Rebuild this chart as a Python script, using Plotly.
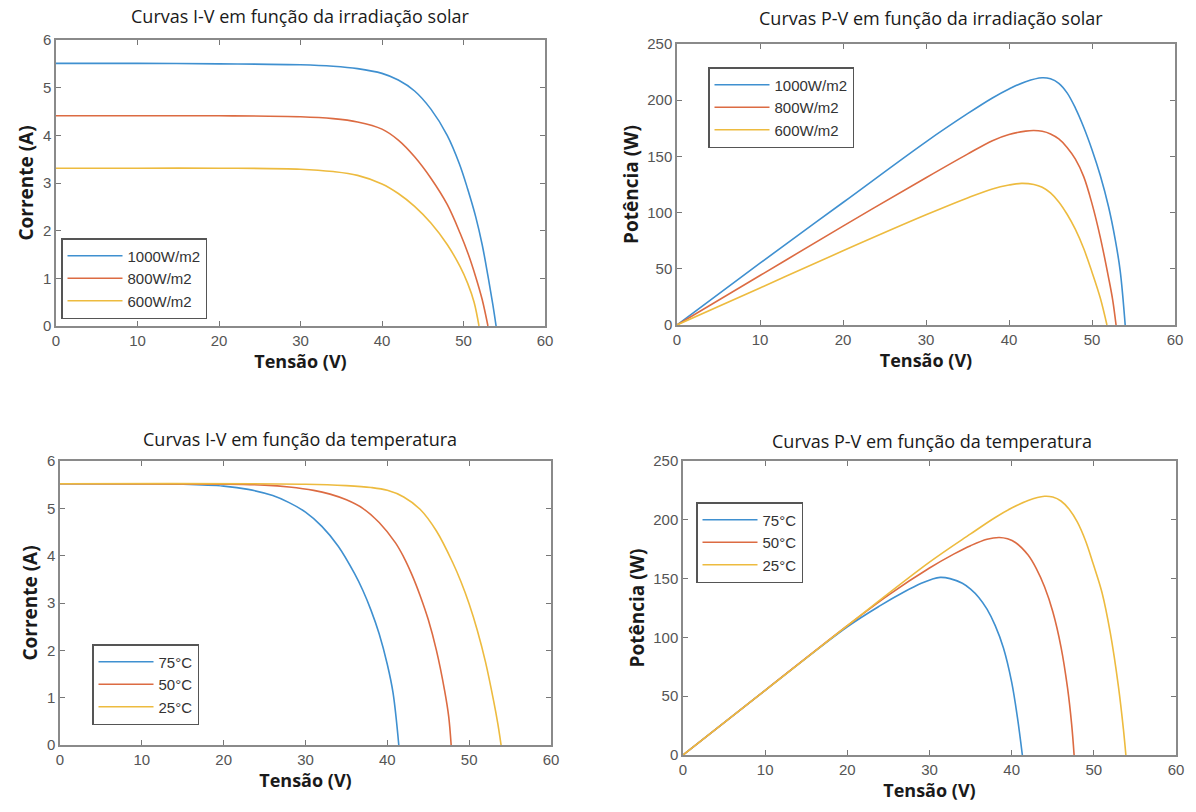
import plotly.graph_objects as go

# ---------------- data ----------------
# I-V vs irradiance
iv_irr_labels = ["1000W/m2", "800W/m2", "600W/m2"]
iv_1000_v = [0, 10, 20, 30, 34, 37, 40, 42, 44, 46, 48, 49.5, 50.5, 51.5, 52.3, 53, 53.6, 54]
iv_1000_i = [5.51, 5.51, 5.5, 5.48, 5.45, 5.4, 5.3, 5.16, 4.93, 4.55, 4.0, 3.4, 2.88, 2.29, 1.7, 1.05, 0.45, 0]
iv_800_v = [0, 10, 20, 30, 34, 37, 40, 42, 44, 46, 48, 49.6, 50.6, 51.5, 52.3, 53]
iv_800_i = [4.41, 4.41, 4.41, 4.39, 4.35, 4.28, 4.13, 3.9, 3.55, 3.1, 2.55, 1.94, 1.5, 1.03, 0.55, 0]
iv_600_v = [0, 10, 20, 30, 34, 37, 40, 42, 44, 46, 48, 49.6, 50.5, 51.3, 51.9]
iv_600_i = [3.31, 3.31, 3.31, 3.29, 3.24, 3.16, 2.98, 2.78, 2.51, 2.16, 1.71, 1.24, 0.9, 0.5, 0]

# P-V vs irradiance
pv_1000_v = [0, 10, 20, 30, 35, 38, 40, 42, 44, 45, 46, 47, 48, 49, 50, 51, 52, 52.8, 53.4, 54]
pv_1000_p = [0, 55, 109, 163, 188, 202, 210, 216.5, 220, 219, 215, 206.5, 193, 176, 156, 133, 105, 76, 48, 0]
pv_800_v = [0, 10, 20, 30, 35, 38, 40, 42, 43, 44, 45, 46, 47, 48, 49, 50, 51, 52, 52.5, 52.9]
pv_800_p = [0, 44, 88, 131, 152, 164, 169.5, 172.5, 173, 172.3, 170, 165.5, 158, 147.5, 132, 108, 78, 42, 22, 0]
pv_600_v = [0, 10, 20, 30, 35, 38, 40, 41.5, 43, 44, 45, 46, 47, 48, 49, 50, 51, 51.8]
pv_600_p = [0, 33, 66, 98, 113, 121, 124.5, 126, 125, 122.5, 117.5, 109.5, 98.5, 85, 68, 47, 24, 0]

# I-V vs temperature
temp_labels = ["75°C", "50°C", "25°C"]
ivt_75_v = [0, 10, 15, 20, 23, 26, 28, 30, 32, 34, 36, 37, 38, 39, 40, 40.7, 41.4]
ivt_75_i = [5.52, 5.52, 5.51, 5.47, 5.4, 5.27, 5.12, 4.92, 4.62, 4.2, 3.62, 3.27, 2.85, 2.35, 1.7, 1.1, 0]
ivt_50_v = [0, 20, 25, 28, 31, 33, 35, 37, 39, 41, 42, 43, 44, 45, 46, 47, 47.5, 47.8]
ivt_50_i = [5.52, 5.51, 5.49, 5.45, 5.38, 5.3, 5.18, 5.0, 4.7, 4.27, 3.97, 3.6, 3.16, 2.65, 2.0, 1.15, 0.6, 0]
ivt_25_v = [0, 30, 35, 38, 40, 42, 44, 46, 48, 49, 50, 51, 52, 53, 53.5, 53.9]
ivt_25_i = [5.52, 5.51, 5.48, 5.44, 5.38, 5.24, 4.98, 4.52, 3.85, 3.45, 2.98, 2.42, 1.75, 0.92, 0.45, 0]

# P-V vs temperature
pvt_75_v = [0, 10, 20, 24, 27, 29, 30.3, 31.3, 32.5, 34, 35, 36, 37, 38, 39, 40, 40.7, 41.3]
pvt_75_p = [0, 55, 109, 127, 139, 146, 149.5, 151, 150, 146, 141, 134, 124, 110, 91, 62, 32, 0]
pvt_50_v = [0, 10, 20, 25, 30, 33, 35, 37, 38.5, 39.5, 40.5, 42, 43, 44, 45, 46, 46.8, 47.3, 47.6]
pvt_50_p = [0, 55, 110, 136, 159, 171, 178, 183.5, 185, 183.8, 180.5, 170, 158.5, 143, 122, 92, 57, 26, 0]
pvt_25_v = [0, 10, 20, 30, 35, 38, 40, 42, 44, 45, 46, 47, 48, 49, 49.9, 51, 52, 53, 53.6, 53.9]
pvt_25_p = [0, 55, 110, 164, 188, 202, 210, 216.5, 220, 219.3, 216, 209, 198, 182, 163, 138, 104, 58, 22, 0]

x_ticks = [0, 10, 20, 30, 40, 50, 60]
i_ticks = [0, 1, 2, 3, 4, 5, 6]
p_ticks = [0, 50, 100, 150, 200, 250]

colors = ["#3f90d0", "#dc6b42", "#edbb3f"]

W, H = 1196, 812

fig = go.Figure()

def add(v, y, name, color, ax, legend):
    fig.add_trace(go.Scatter(
        x=v, y=y, name=name, mode="lines",
        line=dict(color=color, width=1.6, shape="spline", smoothing=1.0),
        xaxis="x" + ax, yaxis="y" + ax, legend=legend, hoverinfo="skip"))

add(iv_1000_v, iv_1000_i, iv_irr_labels[0], colors[0], "", "legend")
add(iv_800_v, iv_800_i, iv_irr_labels[1], colors[1], "", "legend")
add(iv_600_v, iv_600_i, iv_irr_labels[2], colors[2], "", "legend")

add(pv_1000_v, pv_1000_p, iv_irr_labels[0], colors[0], "2", "legend2")
add(pv_800_v, pv_800_p, iv_irr_labels[1], colors[1], "2", "legend2")
add(pv_600_v, pv_600_p, iv_irr_labels[2], colors[2], "2", "legend2")

add(ivt_75_v, ivt_75_i, temp_labels[0], colors[0], "3", "legend3")
add(ivt_50_v, ivt_50_i, temp_labels[1], colors[1], "3", "legend3")
add(ivt_25_v, ivt_25_i, temp_labels[2], colors[2], "3", "legend3")

add(pvt_75_v, pvt_75_p, temp_labels[0], colors[0], "4", "legend4")
add(pvt_50_v, pvt_50_p, temp_labels[1], colors[1], "4", "legend4")
add(pvt_25_v, pvt_25_p, temp_labels[2], colors[2], "4", "legend4")

tick_font = dict(family="Liberation Sans, Arial", size=15, color="#555555")
title_font = dict(family="Open Sans, Lato", size=18, color="#1a1a1a", weight="bold")

def px_dom_x(a, b):
    return [a / W, b / W]

def px_dom_y(top, bottom):
    return [1 - bottom / H, 1 - top / H]

def xaxis(dom, anchor):
    return dict(domain=dom, anchor=anchor, range=[0, 60], tickvals=x_ticks, ticks="inside", ticklen=5,
                tickcolor="#777777", showline=True, linecolor="#8a8a8a", linewidth=1.5, mirror="allticks",
                showgrid=False, zeroline=False, tickfont=tick_font,
                title=dict(text="Tensão (V)", font=title_font, standoff=3), automargin=False, fixedrange=True)

def yaxis(dom, anchor, rng, tv, txt):
    return dict(domain=dom, anchor=anchor, range=rng, tickvals=tv, ticks="inside", ticklen=5,
                tickcolor="#777777", showline=True, linecolor="#8a8a8a", linewidth=1.5, mirror="allticks",
                showgrid=False, zeroline=False, tickfont=tick_font,
                title=dict(text=txt, font=dict(title_font, size=19), standoff=4), automargin=False, fixedrange=True)

legend_common = dict(bgcolor="white", bordercolor="#555555", borderwidth=1.5,
                     font=dict(family="Liberation Sans, Arial", size=15, color="#333333"),
                     xanchor="left", yanchor="top", xref="paper", yref="paper",
                     tracegroupgap=0, itemwidth=55)

fig.update_layout(
    width=W, height=H, margin=dict(l=0, r=0, t=0, b=0),
    paper_bgcolor="white", plot_bgcolor="white", showlegend=True,
    xaxis=xaxis(px_dom_x(56, 545), "y"),
    yaxis=yaxis(px_dom_y(40, 326), "x", [0, 6], i_ticks, "Corrente (A)"),
    xaxis2=xaxis(px_dom_x(677, 1175), "y2"),
    yaxis2=yaxis(px_dom_y(44, 325), "x2", [0, 250], p_ticks, "Potência (W)"),
    xaxis3=xaxis(px_dom_x(60, 551), "y3"),
    yaxis3=yaxis(px_dom_y(461, 745), "x3", [0, 6], i_ticks, "Corrente (A)"),
    xaxis4=xaxis(px_dom_x(683, 1176), "y4"),
    yaxis4=yaxis(px_dom_y(461, 755), "x4", [0, 250], p_ticks, "Potência (W)"),
    legend=dict(legend_common, x=61 / W, y=1 - 238 / H),
    legend2=dict(legend_common, x=708 / W, y=1 - 67 / H),
    legend3=dict(legend_common, x=92 / W, y=1 - 644 / H),
    legend4=dict(legend_common, x=696 / W, y=1 - 502 / H),
)

sub_title_font = dict(family="Open Sans, Lato", size=18, color="#1a1a1a", weight="normal")
titles = [
    ("Curvas I-V em função da irradiação solar", 300, 16),
    ("Curvas P-V em função da irradiação solar", 931, 18),
    ("Curvas I-V em função da temperatura", 300, 439),
    ("Curvas P-V em função da temperatura", 932, 441),
]
for txt, cx, cy in titles:
    fig.add_annotation(text=txt, x=cx / W, y=1 - cy / H, xref="paper", yref="paper",
                       xanchor="center", yanchor="middle", showarrow=False, font=sub_title_font)

fig.write_html("out.html")
